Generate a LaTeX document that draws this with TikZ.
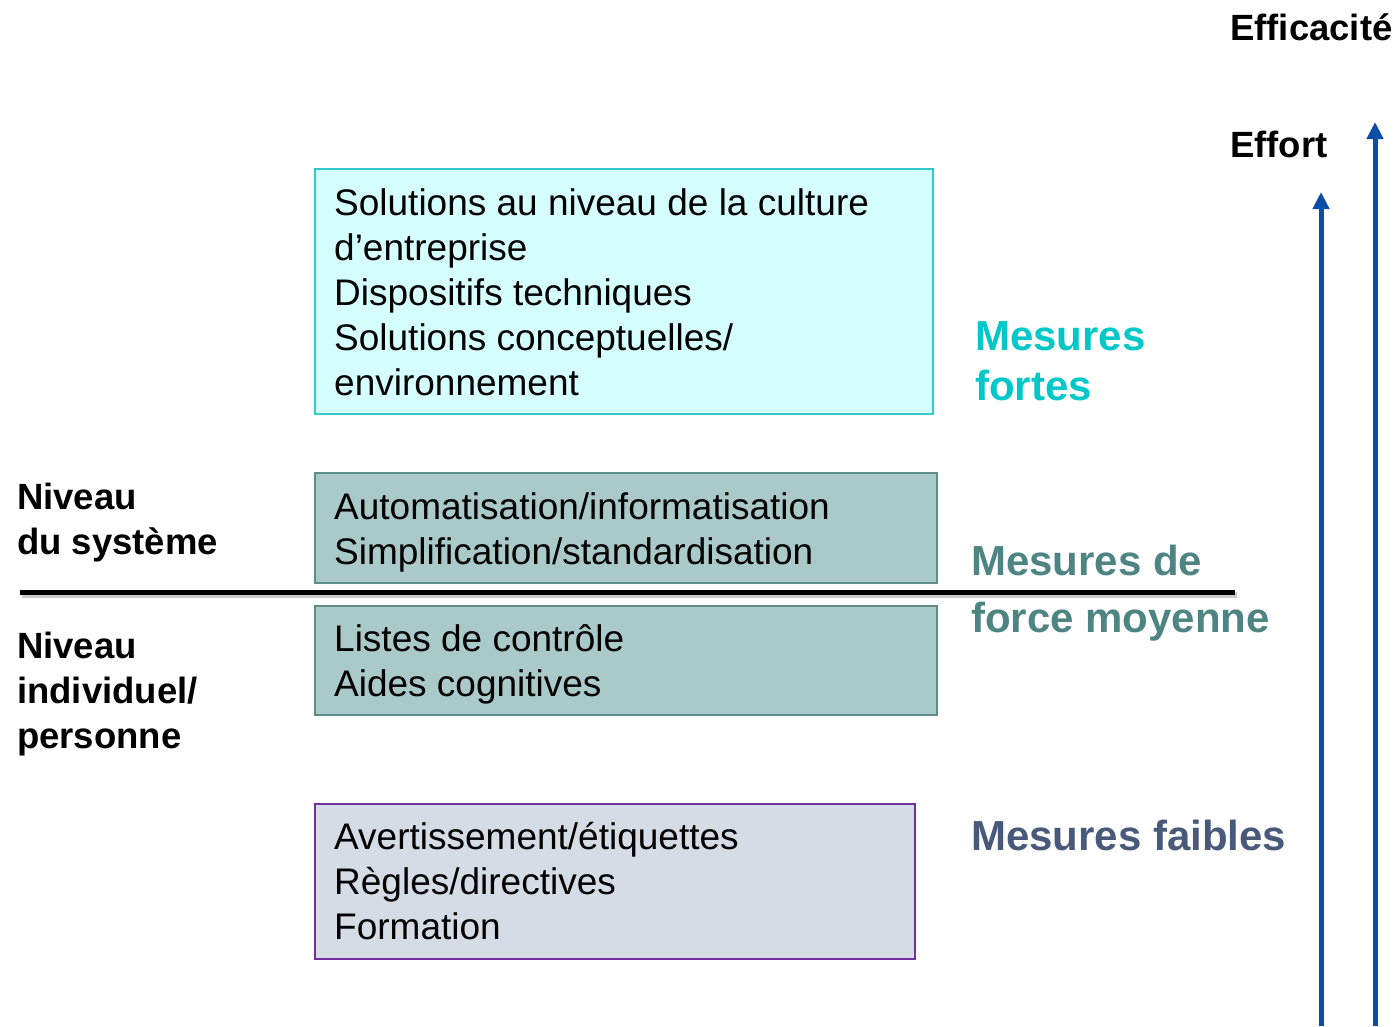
\documentclass[tikz,border=0pt]{standalone}
\usepackage{fontspec}
\setmainfont{Liberation Sans}
\usetikzlibrary{arrows.meta}

\definecolor{strongfill}{HTML}{D5FFFF}
\definecolor{strongline}{HTML}{33CCCC}
\definecolor{midfill}{HTML}{A9CAC8}
\definecolor{midline}{HTML}{5E8C88}
\definecolor{weakfill}{HTML}{D6DCE5}
\definecolor{weakline}{HTML}{7030A0}
\definecolor{strongtxt}{HTML}{00C8C8}
\definecolor{midtxt}{HTML}{4E8482}
\definecolor{weaktxt}{HTML}{48597A}
\definecolor{axisblue}{HTML}{0B4DA8}

\begin{document}
\begin{tikzpicture}[x=1pt,y=-1pt,
  measure/.style={rectangle, draw=#1, line width=1.6pt, anchor=north west,
    inner sep=0pt},
  measuretext/.style={anchor=west, align=left, inner sep=0pt,
    font=\fontsize{37}{45}\selectfont},
  level/.style={anchor=west, align=left, inner sep=0pt,
    font=\fontsize{36.5}{45}\selectfont\bfseries},
  category/.style={anchor=west, align=left, inner sep=0pt,
    font=\fontsize{42}{50}\selectfont\bfseries},
  axis/.style={draw=axisblue, line width=5pt,
    -{Triangle[width=16pt,length=17pt]}},
  shadowline/.style={draw=black!20, line width=6pt},
]
\useasboundingbox (0,0) rectangle (1399,1026);

% measure boxes
\node[measure=strongline, fill=strongfill, minimum width=618pt, minimum height=245pt]
  (strong) at (314,168) {};
\node[measure=midline, fill=midfill, minimum width=622pt, minimum height=110pt]
  (system) at (314,472) {};
\node[measure=midline, fill=midfill, minimum width=622pt, minimum height=109pt]
  (person) at (314,605) {};
\node[measure=weakline, fill=weakfill, minimum width=600pt, minimum height=155pt]
  (weak) at (314,803) {};

% their contents
\node[measuretext] (strongtxt) at ([shift={(20,1)}]strong.west)
  {Solutions au niveau de la culture\\d’entreprise\\Dispositifs techniques\\Solutions conceptuelles/\\environnement};
\node[measuretext] (systemtxt) at ([shift={(20,5)}]system.west)
  {Automatisation/informatisation\\Simplification/standardisation};
\node[measuretext] (persontxt) at ([shift={(20,4)}]person.west)
  {Listes de contrôle\\Aides cognitives};
\node[measuretext] (weaktxt) at ([shift={(20,0)}]weak.west)
  {Avertissement/étiquettes\\Règles/directives\\Formation};

% separation between system and individual level
\coordinate (sepL) at (20,592);
\coordinate (sepR) at (1235,592);
\draw[shadowline] ([shift={(2,3)}]sepL) -- ([shift={(2,3)}]sepR);
\draw[line width=5pt] (sepL) -- (sepR);

% level labels
\node[level] (lsys) at (17,523) {Niveau\\du système};
\node[level] (lind) at (17,694) {Niveau\\individuel/\\personne};

% category labels
\node[category, text=strongtxt] (cstrong) at (975,361) {Mesures\\fortes};
\node[category, text=midtxt] (cmid1) at (971,560) {Mesures de};
\node[category, text=midtxt] (cmid2) at (971,622) {force moyenne};
\node[category, text=weaktxt] (cweak) at (971,835) {Mesures faibles};

% axes
\coordinate (effortB) at (1321,1026);
\coordinate (effortT) at (1321,192);
\coordinate (effB) at (1375,1026);
\coordinate (effT) at (1375,122);
\draw[axis] (effortB) -- (effortT);
\draw[axis] (effB) -- (effT);

\node[level] (leffort) at (1230,144) {Effort};
\node[level] (leff) at (1230,27) {Efficacité};
\end{tikzpicture}
\end{document}
